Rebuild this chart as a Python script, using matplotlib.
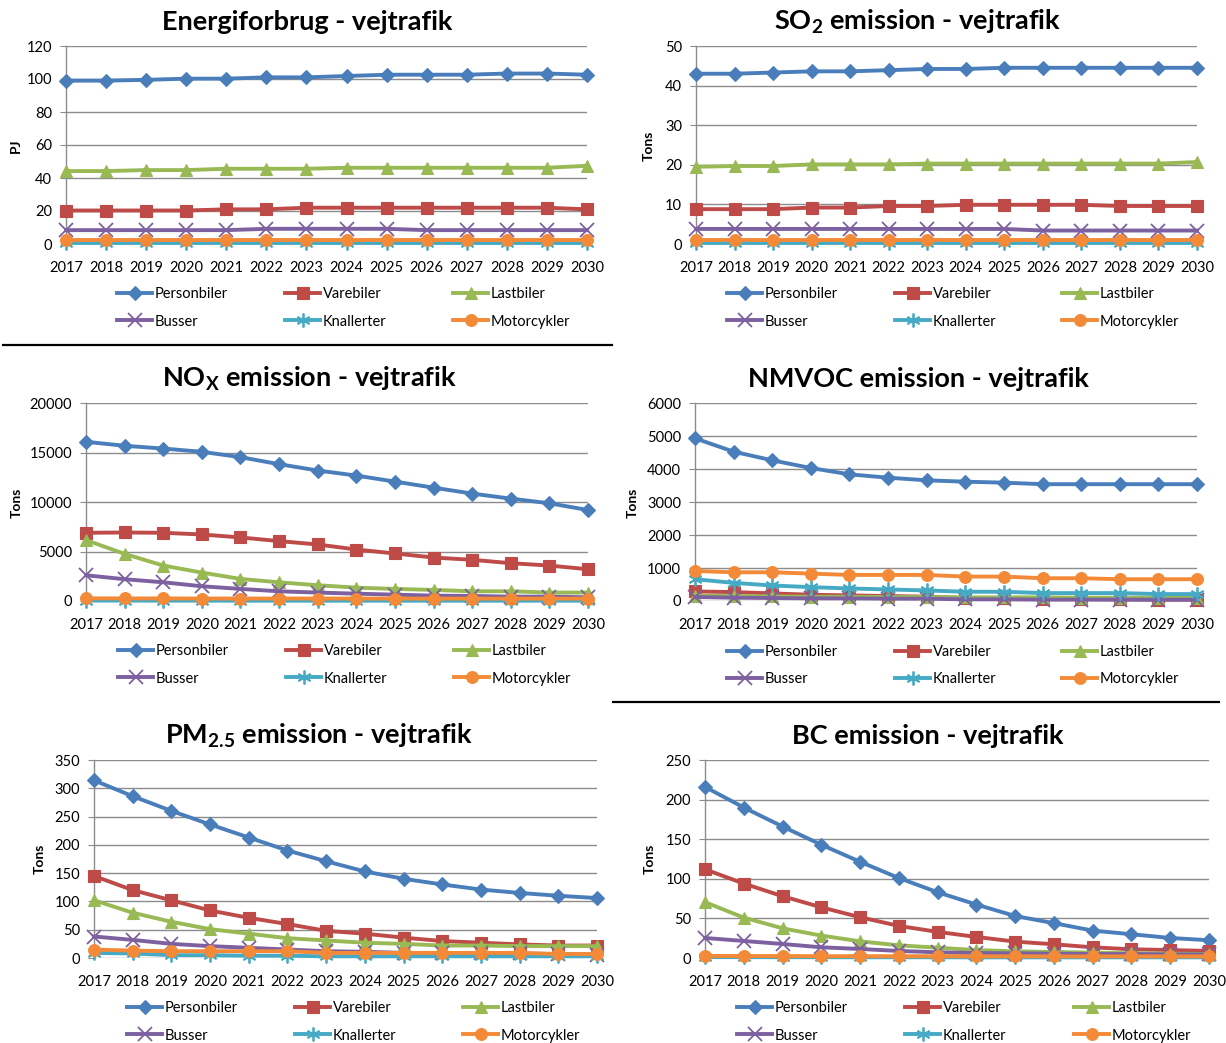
import matplotlib
matplotlib.use("Agg")
import matplotlib.pyplot as plt
from matplotlib.lines import Line2D

plt.rcParams['font.family'] = ['Lato', 'DejaVu Sans']
plt.rcParams['mathtext.fontset'] = 'custom'
plt.rcParams['mathtext.rm'] = 'Lato'
plt.rcParams['mathtext.bf'] = 'Lato:bold'

W, H = 1226, 1043

years = list(range(2017, 2031))
series_names = ["Personbiler", "Varebiler", "Lastbiler", "Busser", "Knallerter", "Motorcykler"]

# Energiforbrug (PJ)
energi_personbiler = [99.0, 99.0, 99.5, 100.2, 100.2, 101.0, 101.0, 101.8, 102.6, 102.6, 102.6, 103.3, 103.3, 102.6]
energi_varebiler = [20.3, 20.3, 20.3, 20.3, 21.0, 21.0, 22.0, 22.0, 22.0, 22.0, 22.0, 22.0, 22.0, 21.0]
energi_lastbiler = [44.2, 44.2, 44.8, 44.8, 45.6, 45.6, 45.6, 46.2, 46.2, 46.2, 46.2, 46.2, 46.2, 47.4]
energi_busser = [8.4, 8.4, 8.4, 8.4, 8.4, 9.2, 9.2, 9.2, 9.2, 8.4, 8.4, 8.4, 8.4, 8.4]
energi_knallerter = [0.4] * 14
energi_motorcykler = [2.4] * 14

# SO2 (Tons)
so2_personbiler = [43.0, 43.0, 43.3, 43.6, 43.6, 43.9, 44.2, 44.2, 44.5, 44.5, 44.5, 44.5, 44.5, 44.5]
so2_varebiler = [8.8, 8.8, 8.8, 9.2, 9.2, 9.6, 9.6, 9.9, 9.9, 9.9, 9.9, 9.6, 9.6, 9.6]
so2_lastbiler = [19.5, 19.7, 19.7, 20.1, 20.1, 20.1, 20.3, 20.3, 20.3, 20.3, 20.3, 20.3, 20.3, 20.7]
so2_busser = [3.8, 3.8, 3.8, 3.8, 3.8, 3.8, 3.8, 3.8, 3.8, 3.4, 3.4, 3.4, 3.4, 3.4]
so2_knallerter = [0.3] * 14
so2_motorcykler = [1.0] * 14

# NOx (Tons)
nox_personbiler = [16080, 15680, 15400, 15070, 14530, 13820, 13180, 12670, 12060, 11450, 10850, 10340, 9870, 9190]
nox_varebiler = [6890, 6920, 6890, 6720, 6420, 6050, 5710, 5200, 4800, 4390, 4160, 3820, 3580, 3210]
nox_lastbiler = [6150, 4760, 3580, 2870, 2230, 1890, 1590, 1350, 1220, 1120, 980, 980, 850, 850]
nox_busser = [2600, 2200, 1890, 1490, 1220, 980, 850, 740, 640, 540, 510, 440, 440, 370]
nox_knallerter = [40, 40, 35, 35, 30, 30, 30, 30, 30, 30, 30, 30, 30, 30]
nox_motorcykler = [270, 260, 260, 250, 250, 250, 250, 250, 240, 240, 240, 240, 240, 240]

# NMVOC (Tons)
nmvoc_personbiler = [4930, 4525, 4263, 4030, 3838, 3737, 3657, 3616, 3586, 3540, 3540, 3540, 3540, 3540]
nmvoc_varebiler = [290, 270, 230, 190, 170, 150, 130, 90, 80, 70, 60, 50, 40, 40]
nmvoc_lastbiler = [160, 150, 140, 130, 130, 120, 120, 110, 110, 110, 100, 100, 100, 100]
nmvoc_busser = [120, 100, 90, 80, 80, 70, 70, 50, 50, 40, 40, 40, 40, 40]
nmvoc_knallerter = [660, 550, 470, 420, 380, 350, 320, 280, 280, 240, 240, 240, 210, 210]
nmvoc_motorcykler = [910, 870, 870, 830, 790, 790, 790, 740, 740, 690, 690, 660, 660, 660]

# PM2.5 (Tons)
pm_personbiler = [314, 286, 260, 236, 213, 190, 171, 153, 140, 130, 121, 115, 110, 106]
pm_varebiler = [145, 120, 102, 84, 71, 60, 48, 43, 36, 30, 27, 24, 22, 22]
pm_lastbiler = [102, 80, 64, 51, 43, 35, 31, 27, 25, 22, 22, 21, 21, 21]
pm_busser = [38, 32, 25, 21, 18, 15, 12, 11, 9, 9, 8, 8, 7, 6]
pm_knallerter = [9, 8, 5, 5, 4, 4, 3, 3, 3, 3, 3, 3, 3, 3]
pm_motorcykler = [15, 13, 12, 12, 12, 12, 9, 9, 9, 9, 9, 9, 7, 7]

# BC (Tons)
bc_personbiler = [216, 190, 166, 143, 121.5, 101, 83, 67.5, 53, 44, 34.6, 30, 25.3, 22.4]
bc_varebiler = [112, 94, 78, 64, 51.5, 40.5, 33, 26.6, 20.7, 17.3, 13.5, 11, 10, 8.9]
bc_lastbiler = [70.5, 51, 37.5, 28.3, 21, 16, 13, 10, 8.4, 7.6, 6.8, 6, 5.5, 5]
bc_busser = [25.3, 21.5, 17.7, 13.5, 11.4, 8.9, 7.2, 6.3, 5.9, 5.5, 5, 5, 4.5, 4.5]
bc_knallerter = [1.2, 1.1, 1.0, 1.0, 0.9, 0.9, 0.9, 0.8, 0.8, 0.8, 0.8, 0.8, 0.8, 0.8]
bc_motorcykler = [2.6, 2.5, 2.4, 2.3, 2.3, 2.2, 2.2, 2.1, 2.1, 2.0, 2.0, 2.0, 2.0, 2.0]

colors = ['#4A7EBB', '#BE4B48', '#98B954', '#7D60A0', '#46AAC5', '#F38A38']
markers = ['D', 's', '^', 'x', (6, 2, 0), 'o']
msizes = [7.5, 8.5, 8.5, 10, 10, 8.5]

panels = [
    dict(title="Energiforbrug - vejtrafik", ylabel="PJ", ymax=120, step=20,
         data=[energi_personbiler, energi_varebiler, energi_lastbiler, energi_busser, energi_knallerter, energi_motorcykler],
         box=(66, 587, 46, 244), title_xy=(307, 22), ylab_xy=(16, 146),
         leg=(292, 320, [117, 285, 453])),
    dict(title=r"SO$_\mathbf{2}$ emission - vejtrafik", ylabel="Tons", ymax=50, step=10,
         data=[so2_personbiler, so2_varebiler, so2_lastbiler, so2_busser, so2_knallerter, so2_motorcykler],
         box=(696, 1197, 46, 244), title_xy=(918, 22), ylab_xy=(649, 146),
         leg=(292, 320, [727, 895, 1062])),
    dict(title=r"NO$_\mathbf{X}$ emission - vejtrafik", ylabel="Tons", ymax=20000, step=5000,
         data=[nox_personbiler, nox_varebiler, nox_lastbiler, nox_busser, nox_knallerter, nox_motorcykler],
         box=(86, 588, 403, 601), title_xy=(309, 379), ylab_xy=(17, 503),
         leg=(649, 677, [118, 286, 454])),
    dict(title="NMVOC emission - vejtrafik", ylabel="Tons", ymax=6000, step=1000,
         data=[nmvoc_personbiler, nmvoc_varebiler, nmvoc_lastbiler, nmvoc_busser, nmvoc_knallerter, nmvoc_motorcykler],
         box=(695, 1197, 403, 601), title_xy=(918, 379), ylab_xy=(633, 503),
         leg=(650, 677, [727, 895, 1062])),
    dict(title=r"PM$_\mathbf{2.5}$ emission - vejtrafik", ylabel="Tons", ymax=350, step=50,
         data=[pm_personbiler, pm_varebiler, pm_lastbiler, pm_busser, pm_knallerter, pm_motorcykler],
         box=(94, 597, 760, 958), title_xy=(319, 736), ylab_xy=(40, 859),
         leg=(1006, 1034, [127, 295, 463])),
    dict(title="BC emission - vejtrafik", ylabel="Tons", ymax=250, step=50,
         data=[bc_personbiler, bc_varebiler, bc_lastbiler, bc_busser, bc_knallerter, bc_motorcykler],
         box=(705, 1209, 760, 958), title_xy=(928, 736), ylab_xy=(650, 859),
         leg=(1006, 1034, [737, 905, 1074])),
]

fig = plt.figure(figsize=(W / 100, H / 100), dpi=100)
fig.patch.set_facecolor('white')


def fx(x):
    return x / W


def fy(y):
    return 1 - y / H


grid_c = '#8C8C8C'

for p in panels:
    l, r, t, b = p['box']
    ax = fig.add_axes([fx(l), fy(b), (r - l) / W, (b - t) / H])
    ax.set_xlim(years[0], years[-1])
    ax.set_ylim(0, p['ymax'])
    lines = []
    for i, (name, vals) in enumerate(zip(series_names, p['data'])):
        ln, = ax.plot(years, vals, color=colors[i], lw=2.8, marker=markers[i],
                      markersize=msizes[i], markerfacecolor=colors[i],
                      markeredgecolor=colors[i], markeredgewidth=1.3 if i in (3, 4) else 0.8,
                      clip_on=False, label=name, zorder=3 + i)
        lines.append(ln)
    ax.set_yticks(range(0, p['ymax'] + 1, p['step']))
    ax.set_xticks(years)
    ax.set_xticklabels([str(y) for y in years], fontsize=10.5)
    ax.tick_params(axis='y', labelsize=10.5, length=4, color=grid_c, pad=6)
    ax.tick_params(axis='x', length=0, pad=12)
    ax.grid(axis='y', color=grid_c, lw=1.0)
    ax.set_axisbelow(True)
    for s in ['top', 'right', 'bottom']:
        ax.spines[s].set_visible(False)
    ax.spines['left'].set_color(grid_c)
    ax.spines['left'].set_linewidth(1.0)

    fig.text(fx(p['title_xy'][0]), fy(p['title_xy'][1]), p['title'], ha='center', va='center',
             fontsize=19.5, fontweight='bold')
    fig.text(fx(p['ylab_xy'][0]), fy(p['ylab_xy'][1]), p['ylabel'], ha='center', va='center',
             rotation=90, fontsize=10, fontweight='bold')

    y1, y2, cols = p['leg']
    for c, xs in enumerate(cols):
        hs = [lines[c], lines[c + 3]]
        fig.legend(handles=hs, labels=[h.get_label() for h in hs], loc='center left',
                   bbox_to_anchor=(fx(xs), fy((y1 + y2) / 2 + 2)), bbox_transform=fig.transFigure,
                   frameon=False, fontsize=10.5, handlelength=2.4, handletextpad=0.2,
                   borderpad=0, borderaxespad=0, labelspacing=0.9)

# separator lines
fig.add_artist(Line2D([fx(3), fx(612)], [fy(345), fy(345)], color='black', lw=1.6))
fig.add_artist(Line2D([fx(613), fx(1219)], [fy(702), fy(702)], color='black', lw=1.6))

fig.savefig('out.png', dpi=100, facecolor='white')
